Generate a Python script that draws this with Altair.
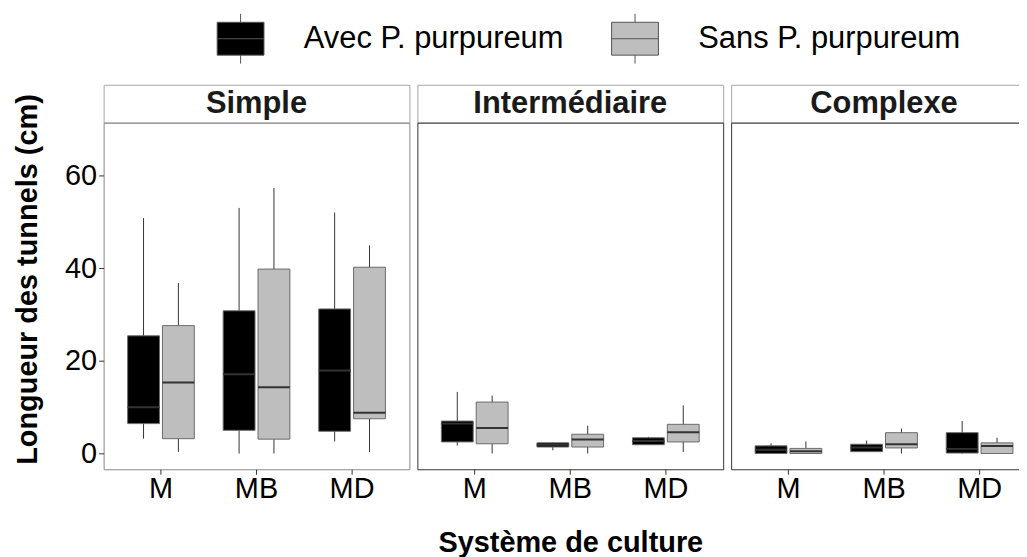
import altair as alt
import pandas as pd

panels = ["Simple", "Intermédiaire", "Complexe"]
systems = ["M", "MB", "MD"]
groups = ["Avec P. purpureum", "Sans P. purpureum"]

# order per panel: M-Avec, M-Sans, MB-Avec, MB-Sans, MD-Avec, MD-Sans
lo = {
    "Simple": [3.2, 0.35, 0.0, 0.0, 2.6, 0.35],
    "Intermédiaire": [1.7, 0.0, 0.7, 0.0, 1.9, 0.35],
    "Complexe": [0.0, 0.0, 0.4, 0.0, 0.0, 0.0],
}
q1 = {
    "Simple": [6.45, 3.2, 5.0, 3.1, 4.8, 7.5],
    "Intermédiaire": [2.5, 2.1, 1.4, 1.4, 1.9, 2.5],
    "Complexe": [0.0, 0.0, 0.4, 1.2, 0.1, 0.0],
}
med = {
    "Simple": [10.0, 15.3, 17.1, 14.3, 17.9, 8.8],
    "Intermédiaire": [6.45, 5.5, 1.9, 3.0, 2.7, 4.6],
    "Complexe": [0.8, 0.5, 1.3, 2.0, 1.0, 1.6],
}
q3 = {
    "Simple": [25.4, 27.6, 30.8, 39.8, 31.2, 40.2],
    "Intermédiaire": [7.0, 11.1, 2.3, 4.15, 3.4, 6.3],
    "Complexe": [1.65, 1.1, 2.0, 4.5, 4.5, 2.3],
}
hi = {
    "Simple": [50.8, 36.8, 53.0, 57.3, 52.0, 44.9],
    "Intermédiaire": [13.3, 12.5, 2.4, 6.0, 3.6, 10.4],
    "Complexe": [2.2, 2.6, 2.8, 5.4, 7.0, 3.4],
}

rows = []
for p in panels:
    k = 0
    for s in systems:
        for g in groups:
            rows.append(dict(panel=p, systeme=s, groupe=g, lo=lo[p][k], q1=q1[p][k],
                             med=med[p][k], q3=q3[p][k], hi=hi[p][k]))
            k += 1
df = pd.DataFrame(rows)

FONT = "Liberation Sans"
PW, PH, SH = 307, 348, 38
legend_path = "M-0.94,-0.66H0.94V0.66H-0.94Z M-0.94,0H0.94 M0,-0.66V-1 M0,0.66V1"


def panel(i, p):
    d = df[df.panel == p]
    xaxis = alt.Axis(title="Système de culture" if i == 1 else None, labelAngle=0,
                     labelPadding=0, titlePadding=26)
    x = alt.X("systeme:N", sort=systems,
              scale=alt.Scale(paddingInner=0, paddingOuter=0.1), axis=xaxis)
    xo = alt.XOffset("groupe:N", sort=groups,
                     scale=alt.Scale(paddingInner=0.086, paddingOuter=0.414))
    yaxis = alt.Axis(title="Longueur des tunnels (cm)", values=[0, 20, 40, 60],
                     labelPadding=2, titlePadding=22, titleY=157) if i == 0 else None
    ysc = alt.Scale(domain=[-3.4, 71.4], nice=False, zero=False)
    base = alt.Chart(d).encode(x=x, xOffset=xo)
    whisk = base.mark_rule(color="#333333", strokeWidth=1).encode(
        y=alt.Y("lo:Q", scale=ysc, axis=yaxis), y2="hi:Q")
    box = base.mark_bar(stroke="#6b6b6b", strokeWidth=1).encode(
        y=alt.Y("q1:Q", scale=ysc), y2="q3:Q",
        color=alt.Color("groupe:N", sort=groups,
                        scale=alt.Scale(domain=groups, range=["#000000", "#bebebe"]),
                        legend=alt.Legend(title=None)))
    mline = base.mark_bar(stroke="#333333", strokeWidth=2, fill="#333333").encode(
        y=alt.Y("med:Q", scale=ysc), y2="med:Q")
    plot = alt.layer(whisk, box, mline).properties(
        width=PW, height=PH,
        view=alt.ViewBackground(stroke="#888888" if i == 0 else "#333333", strokeWidth=1))
    strip = alt.Chart(pd.DataFrame({"panel": [p]})).mark_text(
        font=FONT, fontSize=31, fontWeight="bold", color="#1a1a1a", baseline="middle"
    ).encode(text="panel:N").properties(
        width=PW, height=SH,
        view=alt.ViewBackground(stroke="#a6a6a6", strokeWidth=1, fill="white"))
    return alt.vconcat(strip, plot, spacing=0, bounds="flush")


chart = alt.hconcat(*[panel(i, p) for i, p in enumerate(panels)], spacing=6).configure(
    font=FONT, background="white",
    # the last panel runs past the right edge of the picture, as in the reference
    padding={"left": 5, "top": 4, "right": -19, "bottom": 0}
).configure_axis(
    labelFont=FONT, labelFontSize=29, labelColor="#000000", tickColor="#333333",
    tickSize=5, domain=False, grid=False, titleFont=FONT, titleFontSize=29,
    titleFontWeight="bold", titleColor="#000000"
).configure_legend(
    orient="none", legendX=112, legendY=-72, direction="horizontal",
    labelFont=FONT, labelFontSize=31, labelColor="#000000", labelLimit=500,
    symbolType=legend_path, symbolSize=2500, symbolStrokeColor="#555555",
    symbolStrokeWidth=1, labelOffset=38, columnPadding=46
).configure_concat(spacing=6)

chart.save("out.html", embed_options={"renderer": "svg", "actions": False})
